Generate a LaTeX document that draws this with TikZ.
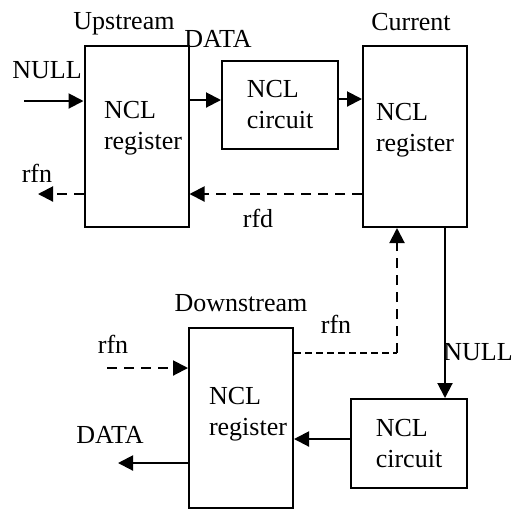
\documentclass[tikz,border=0pt]{standalone}
\usepackage{fontspec}
\setmainfont{Liberation Serif}
\usetikzlibrary{arrows.meta}
\begin{document}
\begin{tikzpicture}[x=0.5pt,y=-0.5pt,line width=1pt,
  every node/.style={font=\fontsize{13}{15.5}\selectfont},
  reg/.style={draw,inner sep=0pt,minimum width=52pt,minimum height=90.5pt},
  cir/.style={draw,inner sep=0pt,minimum width=58pt,minimum height=44pt,align=left},
  lbl/.style={anchor=base,inner sep=0pt},
  txt/.style={anchor=base west,align=left,inner sep=0pt},
  arr/.style={-{Triangle[length=7.5pt,width=7.5pt]}},
  dsh/.style={dash pattern=on 5pt off 3.5pt}]
\useasboundingbox (0,0) rectangle (518,510);
\node[reg] (up) at (136.5,136.5) {};
\node[reg] (cur) at (415,136.5) {};
\node[reg,minimum height=90pt] (down) at (241,418) {};
\node[cir] (cirA) at (280,104.5) {NCL\\circuit};
\node[cir,minimum height=44.5pt] (cirB) at (409,443.5) {NCL\\circuit};
\node[txt] (uptxt) at (103,149) {NCL\\register};
\node[txt] (curtxt) at (375,151) {NCL\\register};
\node[txt] (downtxt) at (208,435) {NCL\\register};
\node[lbl] (upname) at (124,29) {Upstream};
\node[lbl] (curname) at (411,30) {Current};
\node[lbl] (downname) at (241,311) {Downstream};
\node[lbl] (data1) at (218,47) {DATA};
\node[lbl] (null1) at (47,78) {NULL};
\node[lbl] (rfn1) at (37,182) {rfn};
\node[lbl] (rfd) at (258,227) {rfd};
\node[lbl] (rfn2) at (336,333) {rfn};
\node[lbl] (null2) at (478,360) {NULL};
\node[lbl] (rfn3) at (113,353) {rfn};
\node[lbl] (data2) at (110,443) {DATA};
\coordinate (nullin) at (24,101);
\coordinate (rfnout) at (38,194);
\coordinate (bend) at (397,353);
\coordinate (rfnin) at (107,368);
\coordinate (dataout) at (118,463);
\draw[arr] (nullin) -- (up.west |- nullin);
\draw[arr] (up.east |- 0,100) -- (cirA.west |- 0,100);
\draw[arr] (cirA.east |- 0,99) -- (cur.west |- 0,99);
\draw[arr,dsh] (cur.west |- 0,194) -- (up.east |- 0,194);
\draw[arr,dsh] (up.west |- rfnout) -- (rfnout);
\draw[arr] (cur.south -| 445,0) -- (cirB.north -| 445,0);
\draw[line width=0.6pt,dash pattern=on 3.5pt off 2pt] (down.east |- bend) -- (bend);
\draw[arr,dsh] (bend) -- (cur.south -| bend);
\draw[arr,dsh] (rfnin) -- (down.west |- rfnin);
\draw[arr] (cirB.west |- 0,439) -- (down.east |- 0,439);
\draw[arr] (down.west |- dataout) -- (dataout);
\end{tikzpicture}
\end{document}
